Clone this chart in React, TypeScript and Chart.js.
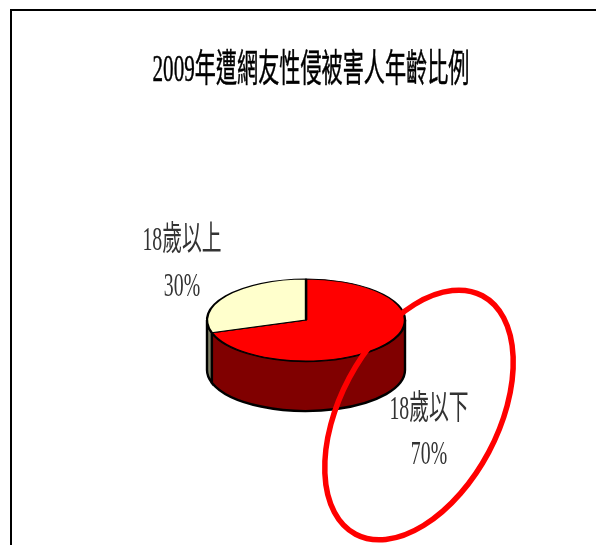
import React, { useEffect, useRef } from "react";
import { Chart, registerables } from "chart.js";

Chart.register(...registerables);

const titleText = "2009年遭網友性侵被害人年齡比例";
const categories = ["18歲以下", "18歲以上"];
const shares = [70, 30];
const sliceColors = ["#ff0000", "#ffffcc"];
const sideColors = ["#800000", "#808066"];

const CX = 306, CY = 320, RX = 99, RY = 41, DEPTH = 50;
const YSCALE = RY / RX;

const pie3d = {
  id: "pie3d",
  beforeDatasetsDraw(chart: any) {
    const ctx = chart.ctx;
    const arcs = chart.getDatasetMeta(0).data;
    ctx.save();
    ctx.lineWidth = 2.4;
    ctx.strokeStyle = "#000";
    arcs.forEach((arc: any, i: number) => {
      // the arc angles start at the top of the pie and run clockwise
      const lo = Math.max(arc.startAngle, 0);
      const hi = Math.min(arc.endAngle, Math.PI);
      if (hi > lo) {
        ctx.beginPath();
        ctx.ellipse(CX, CY, RX, RY, 0, lo, hi);
        ctx.ellipse(CX, CY + DEPTH, RX, RY, 0, hi, lo, true);
        ctx.closePath();
        ctx.fillStyle = sideColors[i];
        ctx.fill();
        ctx.stroke();
      }
    });
    ctx.restore();
    const a0 = arcs[0];
    ctx.save();
    ctx.translate(CX, CY);
    ctx.scale(1, YSCALE);
    ctx.translate(-a0.x, -a0.y);
  },
  afterDatasetsDraw(chart: any) {
    const ctx = chart.ctx;
    ctx.restore();
    ctx.save();
    ctx.font = "34px 'Liberation Serif', 'Noto Sans CJK TC'";
    ctx.fillStyle = "#333";
    ctx.textAlign = "center";
    ctx.textBaseline = "middle";
    ctx.save();
    ctx.translate(182, 261);
    ctx.scale(0.582, 1);
    ctx.fillText(categories[1], 0, -20);
    ctx.fillText(shares[1] + "%", 0, 26);
    ctx.restore();
    ctx.save();
    ctx.translate(429, 432);
    ctx.scale(0.582, 1);
    ctx.fillText(categories[0], 0, -22);
    ctx.fillText(shares[0] + "%", 0, 23);
    ctx.restore();
    ctx.beginPath();
    ctx.ellipse(419, 415, 79, 135, (28 * Math.PI) / 180, 0, Math.PI * 2);
    ctx.strokeStyle = "#ff0000";
    ctx.lineWidth = 5.5;
    ctx.stroke();
    ctx.restore();
  },
};

const frame = {
  id: "frame",
  beforeDraw(chart: any) {
    const ctx = chart.ctx;
    ctx.save();
    ctx.fillStyle = "#fff";
    ctx.fillRect(0, 0, chart.width, chart.height);
    ctx.strokeStyle = "#000";
    ctx.lineWidth = 2;
    ctx.beginPath();
    ctx.moveTo(11, 545);
    ctx.lineTo(11, 10);
    ctx.lineTo(596, 10);
    ctx.stroke();
    ctx.font = "38px 'Liberation Serif', 'Noto Sans CJK TC'";
    ctx.fillStyle = "#000";
    ctx.strokeStyle = "#000";
    ctx.lineWidth = 0.5;
    ctx.textAlign = "center";
    ctx.textBaseline = "middle";
    ctx.translate(311, 71);
    ctx.scale(0.556, 1);
    ctx.fillText(titleText, 0, 0);
    ctx.strokeText(titleText, 0, 0);
    ctx.restore();
  },
};

export default function App() {
  const ref = useRef<HTMLCanvasElement>(null);
  useEffect(() => {
    document.body.style.margin = "0";
    const chart = new Chart(ref.current!, {
      type: "pie",
      data: {
        labels: categories,
        datasets: [
          {
            data: shares,
            backgroundColor: sliceColors,
            borderColor: "#000",
            borderWidth: 2.4,
          },
        ],
      },
      options: {
        animation: false,
        responsive: false,
        radius: RX,
        layout: { padding: 0 },
        plugins: { legend: { display: false }, title: { display: false }, tooltip: { enabled: false } },
      } as any,
      plugins: [frame, pie3d],
    });
    return () => chart.destroy();
  }, []);
  return <canvas ref={ref} width={596} height={545} style={{ display: "block" }} />;
}
